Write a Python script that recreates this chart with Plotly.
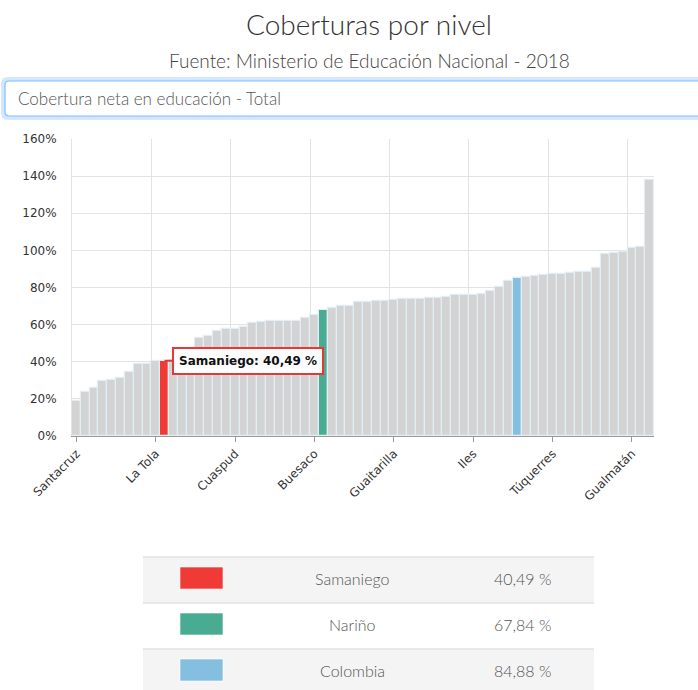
import plotly.graph_objects as go

# Net education coverage by municipality (sorted), with department and national totals
names = [
    "Santacruz", "Mosquera", "Magüí", "El Charco", "Roberto Payán", "Olaya Herrera",
    "Francisco Pizarro", "Barbacoas", "Cumbitara", "La Tola", "Samaniego", "Policarpa",
    "Ricaurte", "Mallama", "Leiva", "El Rosario", "Tumaco", "Los Andes", "Cuaspud",
    "La Llanada", "Cumbal", "Santa Bárbara", "Guachucal", "Taminango", "El Peñol",
    "Potosí", "Linares", "Buesaco", "Nariño", "Aldana", "San Lorenzo", "Ancuyá",
    "Puerres", "Córdoba", "Sapuyes", "Providencia", "Guaitarilla", "Arboleda", "Colón",
    "El Tambo", "Funes", "Imués", "La Unión", "Consacá", "La Florida", "Iles",
    "San Pablo", "Ospina", "Albán", "San Bernardo", "Colombia", "Contadero", "Pupiales",
    "Tangua", "Túquerres", "Yacuanquer", "Chachagüí", "Belén", "Sandoná",
    "El Tablón de Gómez", "San Pedro de Cartago", "La Cruz", "Ipiales", "Gualmatán",
    "Pasto", "Nariño (municipio)",
]
coverage = [
    18.9, 23.7, 25.9, 29.5, 30.0, 31.1, 34.7, 39.0, 39.0, 40.3, 40.49, 41.2,
    44.3, 46.5, 52.7, 53.9, 56.8, 57.5, 57.9, 58.5, 60.8, 61.5, 62.1, 62.1, 62.1,
    62.2, 63.4, 65.1, 67.84, 69.1, 70.0, 70.1, 72.1, 72.2, 72.7, 72.9, 73.3, 73.7, 73.7,
    73.8, 74.3, 74.4, 75.0, 75.7, 75.7, 75.8, 76.3, 78.1, 80.4, 83.3, 84.88, 85.8, 86.3,
    86.5, 87.1, 87.2, 87.9, 88.4, 88.5, 90.4, 97.9, 98.4, 98.9, 101.4, 102.0, 137.9,
]
tick_names = ["Santacruz", "La Tola", "Cuaspud", "Buesaco", "Guaitarilla", "Iles",
              "Túquerres", "Gualmatán"]

# Highlighted entries: (bar index, label, colour)
highlights = [
    (10, "Samaniego", "#ef3a36"),
    (28, "Nariño", "#4aab93"),
    (50, "Colombia", "#84bfdf"),
]

title_text = "Coberturas por nivel"
subtitle_text = "Fuente: Ministerio de Educación Nacional - 2018"
selector_text = "Cobertura neta en educación - Total"

W, H = 698, 690
L, R, T, B = 72, 44, 139, 254
PW, PH = W - L - R, H - T - B


def fx(p):
    return (p - L) / PW


def fy(p):
    return (H - B - p) / PH


def fmt(v):
    return f"{v:.2f}".replace(".", ",") + " %"


idx = list(range(len(names)))
colors = ["#d3d3d3"] * len(names)
for i, _, c in highlights:
    colors[i] = c

fig = go.Figure()
fig.add_trace(go.Bar(
    x=idx, y=coverage, customdata=names, textposition="none",
    marker=dict(color=colors, line=dict(color="#e2eef6", width=1.2)),
    hovertemplate="%{customdata}: %{y:.2f} %<extra></extra>",
))

tickvals = [names.index(n) for n in tick_names]
gridvals = [v - 0.5 for v in tickvals[1:]]

label_font = dict(family="DejaVu Sans", size=12, color="#333")
thin_font = "Lato"

fig.update_layout(
    width=W, height=H,
    margin=dict(l=L, r=R, t=T, b=B, autoexpand=False),
    paper_bgcolor="white", plot_bgcolor="white",
    showlegend=False, bargap=0,
    xaxis=dict(
        range=[-0.5, len(names) - 0.5],
        tickmode="array", tickvals=tickvals, ticktext=tick_names,
        tickangle=-45, tickfont=label_font,
        ticks="outside", ticklen=5, tickcolor="#999",
        showgrid=False, zeroline=False,
        showline=True, linecolor="#999", linewidth=1,
        minor=dict(tickmode="array", tickvals=gridvals, showgrid=True,
                   gridcolor="#e3e3e3", gridwidth=1, ticks=""),
        fixedrange=True,
    ),
    yaxis=dict(
        range=[0, 160], tickmode="linear", tick0=0, dtick=20,
        ticksuffix="%", tickfont=label_font,
        showgrid=True, gridcolor="#e3e3e3", gridwidth=1,
        zeroline=False, showline=True, linecolor="#e3e3e3",
        ticklabelstandoff=12, fixedrange=True,
    ),
)

annotations = [
    dict(text=title_text, x=fx(369), y=fy(24), xref="paper", yref="paper",
         showarrow=False, xanchor="center", yanchor="middle",
         font=dict(family=thin_font, size=28, color="#333", weight=300)),
    dict(text=subtitle_text, x=fx(369), y=fy(60), xref="paper", yref="paper",
         showarrow=False, xanchor="center", yanchor="middle",
         font=dict(family=thin_font, size=19, color="#444", weight=300)),
    dict(text=selector_text, x=fx(16), y=fy(98), xref="paper", yref="paper",
         showarrow=False, xanchor="left", yanchor="middle",
         font=dict(family=thin_font, size=17, color="#555", weight=300)),
]

# Callout for the selected municipality
sel_i, sel_name, sel_col = highlights[0]
annotations.append(dict(
    x=sel_i, y=coverage[sel_i], xref="x", yref="y",
    text=f"<b>{sel_name}: {fmt(coverage[sel_i])}</b>",
    showarrow=True, arrowhead=0, arrowwidth=2, arrowcolor="#e53935",
    ax=83, ay=0, bgcolor="rgba(255,255,255,0.92)",
    bordercolor="#e53935", borderwidth=2, borderpad=5,
    font=dict(family="DejaVu Sans", size=12, color="#111"),
))

shapes = []
# Selector box with soft glow and rounded left corners
def rounded_box(x0, y0, x1, y1, r):
    return (f"M {fx(x0 + r)},{fy(y0)} L {fx(x1)},{fy(y0)} L {fx(x1)},{fy(y1)} "
            f"L {fx(x0 + r)},{fy(y1)} Q {fx(x0)},{fy(y1)} {fx(x0)},{fy(y1 - r)} "
            f"L {fx(x0)},{fy(y0 + r)} Q {fx(x0)},{fy(y0)} {fx(x0 + r)},{fy(y0)} Z")

shapes.append(dict(type="path", path=rounded_box(3, 79, 710, 118, 5), xref="paper",
                   yref="paper", line=dict(color="rgba(128,189,255,0.35)", width=4),
                   fillcolor="white", layer="below"))
shapes.append(dict(type="path", path=rounded_box(5, 81, 710, 116, 4), xref="paper",
                   yref="paper", line=dict(color="#80bdff", width=1.2),
                   fillcolor="white", layer="below"))

# Summary table of the highlighted entries
row_top, row_h = 557, 46
t_left, t_right = 143, 594
for r, (i, name, col) in enumerate(highlights):
    y0 = row_top + r * row_h
    y1 = min(y0 + row_h, H + 5)
    shapes.append(dict(type="rect", xref="paper", yref="paper",
                       x0=fx(t_left), x1=fx(t_right), y0=fy(y1), y1=fy(y0),
                       fillcolor="#f4f4f4" if r % 2 == 0 else "white",
                       line=dict(width=0), layer="below"))
    shapes.append(dict(type="line", xref="paper", yref="paper",
                       x0=fx(t_left), x1=fx(t_right), y0=fy(y0), y1=fy(y0),
                       line=dict(color="#e2e2e2", width=1.5)))
    shapes.append(dict(type="rect", xref="paper", yref="paper",
                       x0=fx(180), x1=fx(223), y0=fy(y0 + 32), y1=fy(y0 + 10),
                       fillcolor=col, line=dict(color="rgba(255,255,255,0.6)", width=1)))
    annotations.append(dict(text=name, x=fx(352), y=fy(y0 + 21), xref="paper",
                            yref="paper", showarrow=False, xanchor="center",
                            yanchor="middle",
                            font=dict(family=thin_font, size=16, color="#555", weight=300)))
    annotations.append(dict(text=fmt(coverage[i]), x=fx(522), y=fy(y0 + 21), xref="paper",
                            yref="paper", showarrow=False, xanchor="center",
                            yanchor="middle",
                            font=dict(family=thin_font, size=16, color="#555", weight=300)))

fig.update_layout(annotations=annotations, shapes=shapes)
fig.write_html("out.html")
